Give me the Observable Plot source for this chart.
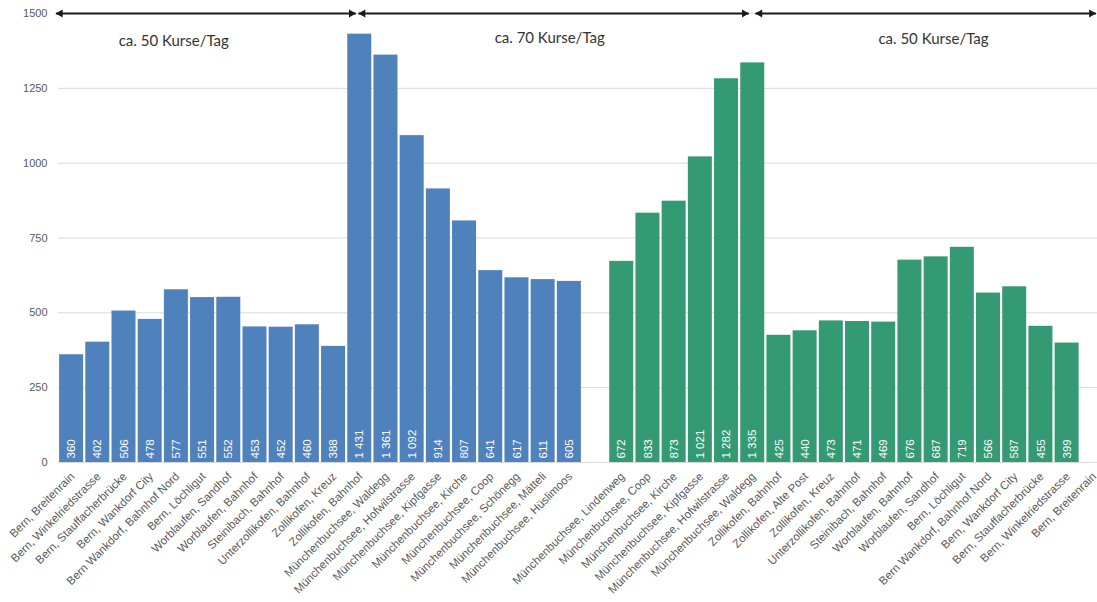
<!DOCTYPE html>
<html><head><meta charset="utf-8">
<script src="https://cdn.jsdelivr.net/npm/d3@7"></script>
<script src="https://cdn.jsdelivr.net/npm/@observablehq/plot@0.6"></script>
<style>body{margin:0;background:#fff;overflow:hidden}</style>
</head><body><div id="chart"></div>
<script>
// Richtung 1 (blau)
const stopsBlue = ["Bern, Breitenrain","Bern, Winkelriedstrasse","Bern, Stauffacherbrücke","Bern, Wankdorf City","Bern Wankdorf, Bahnhof Nord","Bern, Löchligut","Worblaufen, Sandhof","Worblaufen, Bahnhof","Steinibach, Bahnhof","Unterzollikofen, Bahnhof","Zollikofen, Kreuz","Zollikofen, Bahnhof","Münchenbuchsee, Waldegg","Münchenbuchsee, Hofwilstrasse","Münchenbuchsee, Kipfgasse","Münchenbuchsee, Kirche","Münchenbuchsee, Coop","Münchenbuchsee, Schönegg","Münchenbuchsee, Mätteli","Münchenbuchsee, Hüslimoos"];
const valuesBlue = [360,402,506,478,577,551,552,453,452,460,388,1431,1361,1092,914,807,641,617,611,605];
// Richtung 2 (grün)
const stopsGreen = ["Münchenbuchsee, Lindenweg","Münchenbuchsee, Coop","Münchenbuchsee, Kirche","Münchenbuchsee, Kipfgasse","Münchenbuchsee, Hofwilstrasse","Münchenbuchsee, Waldegg","Zollikofen, Bahnhof","Zollikofen, Alte Post","Zollikofen, Kreuz","Unterzollikofen, Bahnhof","Steinibach, Bahnhof","Worblaufen, Bahnhof","Worblaufen, Sandhof","Bern, Löchligut","Bern Wankdorf, Bahnhof Nord","Bern, Wankdorf City","Bern, Stauffacherbrücke","Bern, Winkelriedstrasse","Bern, Breitenrain"];
const valuesGreen = [672,833,873,1021,1282,1335,425,440,473,471,469,676,687,719,566,587,455,399];
const yTicks = [0,250,500,750,1000,1250,1500];
// Abschnitte (Pfeile oben)
const segmentLabels = ["ca. 50 Kurse/Tag","ca. 70 Kurse/Tag","ca. 50 Kurse/Tag"];
const segmentStarts = [-0.1, 11.45, 26.6];
const segmentEnds = [11.35, 26.35, 39.6];
const segmentLabelX = [4.4, 18.75, 33.4];
const segmentLabelY = [1406, 1418, 1415];
const arrowY = 1500;
const colors = {blau: "#4f81bd", "grün": "#339a73"};

const rows = [
  ...stopsBlue.map((s, i) => ({i, stop: s, value: valuesBlue[i], group: "blau"})),
  ...stopsGreen.map((s, j) => ({i: stopsBlue.length + 1 + j, stop: s, value: valuesGreen[j], group: "grün"}))
];
const bars = rows.filter(d => d.value != null);
const segments = segmentLabels.map((t, k) => ({t, x1: segmentStarts[k], x2: segmentEnds[k], lx: segmentLabelX[k], ly: segmentLabelY[k], y: arrowY}));

const fmt = d3.formatLocale({decimal: ",", thousands: " ", grouping: [3], currency: ["", ""]}).format(",d");
const sans = "Liberation Sans";

const chart = Plot.plot({
  width: 1097,
  height: 602,
  marginLeft: 58,
  marginRight: 0,
  marginTop: 13,
  marginBottom: 140,
  style: {fontFamily: sans, background: "#fff"},
  x: {domain: [0, 39.66], axis: null},
  y: {domain: [0, 1500], axis: null},
  color: {domain: Object.keys(colors), range: Object.values(colors)},
  marks: [
    Plot.gridY(yTicks, {stroke: "#d9d9d9", strokeOpacity: 1, strokeWidth: 1}),
    Plot.axisY(yTicks, {tickSize: 0, tickPadding: 11, fontSize: 11, color: "#595959", fontFamily: sans, tickFormat: d => `${d}`}),
    Plot.rectY(bars, {x1: "i", x2: d => d.i + 1, y: "value", fill: "group", insetLeft: 1.1, insetRight: 1.1}),
    Plot.ruleY([0], {stroke: "#d9d9d9"}),
    Plot.text(bars, {x: d => d.i + 0.5, y: 0, text: d => fmt(d.value), rotate: -90, textAnchor: "start", dy: -4, fill: "white", fontSize: 11.5, fontFamily: sans}),
    Plot.text(rows, {x: d => d.i + 0.5, y: 0, text: "stop", rotate: -45, textAnchor: "end", dx: 1, dy: 12, fill: "#595959", fontSize: 11.5, fontFamily: sans}),
    Plot.link(segments, {x1: "x1", x2: "x2", y1: "y", y2: "y", stroke: "#1a1a1a", strokeWidth: 2}),
    Plot.dot(segments, {x: "x1", y: "y", symbol: "triangle", r: 3, rotate: -90, fill: "#1a1a1a", stroke: null, dx: 4.5}),
    Plot.dot(segments, {x: "x2", y: "y", symbol: "triangle", r: 3, rotate: 90, fill: "#1a1a1a", stroke: null, dx: -4.5}),
    Plot.text(segments, {x: "lx", y: "ly", text: "t", fontSize: 15, fill: "#333", fontFamily: "Lato"})
  ]
});
document.getElementById("chart").append(chart);
</script>
</body></html>
